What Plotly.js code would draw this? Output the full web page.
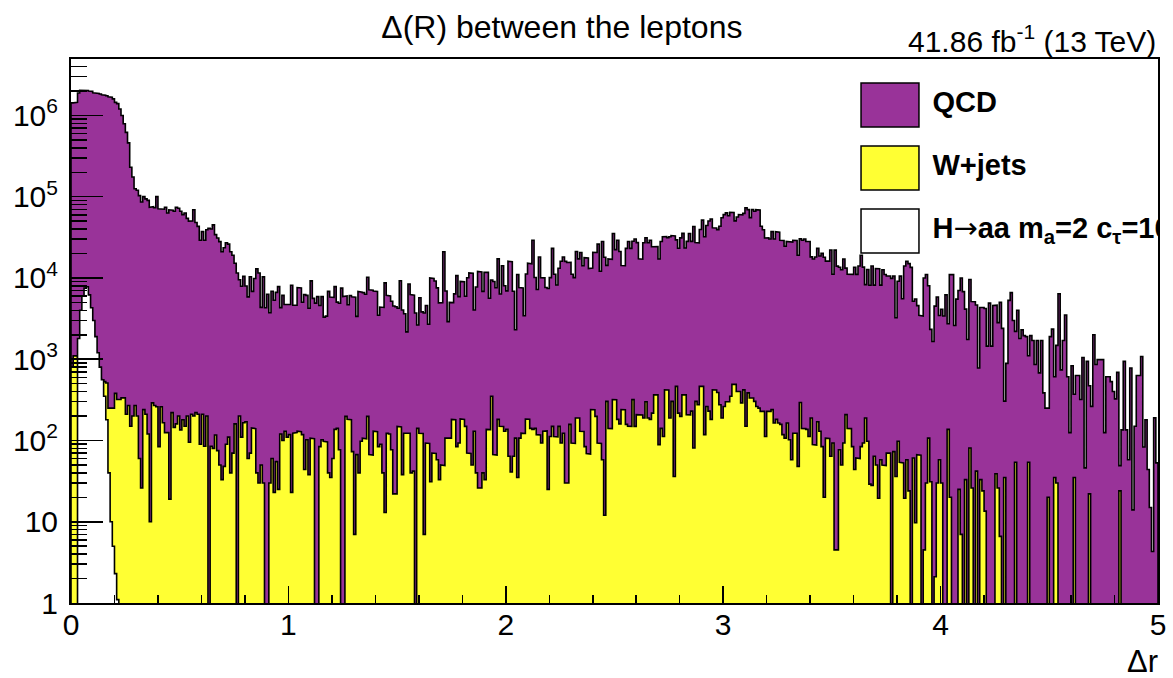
<!DOCTYPE html>
<html>
<head>
<meta charset="utf-8">
<script src="https://cdn.plot.ly/plotly-3.0.1.min.js"></script>
<style>
  html, body { margin: 0; padding: 0; background: #ffffff; }
  #chart { width: 1173px; height: 678px; }
</style>
</head>
<body>
<div id="chart"></div>
<script>
// Δr between the two leptons: 500 bins from 0 to 5
const xMin = 0;
const xMax = 5;
const nBins = 500;

// QCD yield per bin
const qcd = [
  1430000, 1430000, 1450000, 1890000, 2040000, 2040000, 2050000, 2030000, 2000000, 1980000,
  1900000, 1880000, 1860000, 1840000, 1800000, 1780000, 1750000, 1700000, 1680000, 1600000,
  1450000, 1400000, 1200000, 1000000, 790000, 620000, 460000, 230000, 175000, 125000,
  120000, 103000, 86000, 100000, 94000, 90000, 74000, 75000, 73000, 100000,
  71000, 71000, 70000, 74000, 63000, 69000, 68000, 66000, 74000, 72000,
  66000, 60000, 63000, 54000, 50000, 50000, 69000, 48000, 43000, 29000,
  37000, 29000, 39000, 41000, 40000, 45000, 34000, 31000, 28000, 21000,
  23500, 27000, 26000, 21000, 19000, 15000, 11500, 9300, 7800, 10300,
  7800, 5800, 10300, 6700, 9700, 12900, 11500, 4300, 10300, 4300,
  6300, 3700, 6800, 5300, 6600, 7800, 4200, 6000, 4600, 4600,
  4600, 8100, 4500, 4500, 7500, 7400, 4900, 6200, 6000, 4200,
  9100, 5500, 4900, 5900, 4500, 5800, 3200, 3300, 6800, 5800,
  5700, 7700, 4900, 4800, 7500, 5900, 5800, 4500, 5900, 5800,
  5800, 3300, 6800, 6600, 6500, 6200, 10000, 7100, 7000, 6800,
  6700, 3400, 4300, 4300, 8700, 6000, 5900, 5100, 4500, 4400,
  4100, 9100, 4000, 3500, 2050, 8300, 6200, 6100, 3700, 2500,
  5600, 3700, 3700, 4500, 2600, 10000, 9800, 9100, 7500, 4900,
  4900, 21000, 6800, 2800, 4900, 4800, 6200, 10600, 5800, 8900,
  8800, 5800, 10000, 11500, 11400, 3900, 7700, 12000, 11800, 6800,
  11700, 11600, 5500, 9100, 9000, 7500, 17000, 6200, 14000, 7900,
  6800, 16000, 15800, 6800, 2200, 11000, 7500, 7400, 3300, 11000,
  15000, 14800, 29000, 10000, 7100, 18000, 10000, 9900, 7500, 7400,
  10000, 23000, 11000, 8100, 13000, 16000, 18000, 16000, 15500, 15400,
  11000, 10000, 21000, 17000, 20500, 14000, 17700, 17600, 13000, 13000,
  20500, 20400, 26000, 12000, 28000, 18000, 14000, 17000, 16800, 35000,
  22000, 29000, 21000, 14000, 13900, 23000, 28000, 23000, 28000, 30000,
  27000, 17000, 16800, 27000, 31000, 27000, 29000, 24000, 23800, 24000,
  17000, 28000, 32000, 31800, 31000, 32000, 33000, 32800, 29000, 23000,
  31000, 35000, 23000, 28000, 35000, 28000, 43000, 27000, 26800, 39000,
  51000, 32000, 44000, 50000, 53000, 41000, 40800, 39000, 43000, 55000,
  60000, 63000, 58000, 64000, 63500, 50000, 56000, 60000, 59500, 62000,
  73000, 69000, 55000, 69000, 66000, 69000, 68500, 43000, 39000, 31000,
  31000, 30000, 37000, 30000, 37000, 36500, 29000, 28800, 24500, 28000,
  27800, 27600, 29000, 28800, 19000, 30000, 29000, 30000, 28000, 28000,
  18000, 17000, 18000, 23000, 18500, 20000, 18000, 16000, 16000, 22000,
  11000, 22000, 14000, 13500, 12600, 17000, 13000, 11000, 11000, 11000,
  13500, 11000, 14000, 19000, 13500, 8100, 12600, 8100, 14000, 8100,
  13000, 13000, 8100, 12600, 11000, 10500, 10500, 9900, 10500, 3200,
  9000, 10500, 5500, 14000, 16000, 15000, 13500, 5100, 5500, 4500,
  3400, 3400, 10000, 11000, 7900, 2300, 1650, 4500, 5800, 3400,
  4100, 3400, 6200, 2600, 11000, 11000, 2600, 5500, 7000, 10000,
  6800, 4100, 1750, 9500, 5100, 5100, 4600, 780, 4300, 4300,
  4200, 1450, 4900, 1450, 4600, 4600, 2800, 5000, 2400, 270,
  890, 5300, 6600, 3000, 2150, 4000, 1800, 2300, 1950, 1900,
  1050, 1950, 1700, 860, 1700, 680, 1700, 385, 250, 230,
  1900, 2350, 575, 1450, 6400, 740, 1700, 3500, 610, 125,
  830, 335, 630, 630, 320, 1050, 46, 940, 450, 263,
  2000, 860, 990, 990, 990, 125, 610, 610, 530, 400,
  325, 690, 25, 135, 940, 135, 58, 780, 14, 150,
  630, 630, 1080, 83, 180, 44, 15, 4.3, 190, 53
];

// W+jets yield per bin
const wjets = [
  800, 1100, 1100, 1000, 950, 900, 850, 800, 750, 700,
  650, 620, 600, 580, 560, 530, 510, 250, 250, 250,
  380, 320, 320, 335, 335, 210, 270, 150, 200, 270,
  200, 60, 26, 240, 210, 120, 10, 290, 270, 260,
  84, 260, 165, 125, 125, 19, 220, 145, 160, 200,
  135, 180, 150, 200, 95, 210, 200, 220, 210, 90,
  210, 85, 200, 0, 85, 80, 117, 75, 50, 33,
  48, 90, 110, 40, 70, 160, 0, 200, 110, 165,
  170, 60, 70, 143, 140, 40, 30, 50, 30, 0,
  0, 30, 60, 23, 55, 25, 120, 100, 130, 110,
  118, 23, 123, 125, 130, 128, 118, 44, 102, 38,
  107, 105, 0, 0, 84, 102, 98, 96, 40, 35,
  60, 137, 141, 77, 0, 0, 198, 182, 180, 73,
  7, 67, 40, 98, 107, 105, 198, 67, 66, 130,
  128, 84, 90, 40, 13, 123, 120, 77, 22, 22,
  149, 147, 38, 123, 123, 123, 40, 42, 0, 141,
  123, 122, 7, 93, 92, 31, 70, 69, 58, 33,
  50, 49, 107, 106, 107, 182, 180, 84, 93, 184,
  182, 149, 70, 69, 50, 130, 40, 26, 26, 40,
  33, 137, 136, 350, 67, 66, 182, 150, 149, 130,
  137, 64, 41, 64, 107, 35, 107, 123, 122, 184,
  183, 141, 137, 141, 118, 117, 93, 130, 131, 25,
  112, 149, 112, 111, 149, 93, 123, 30, 30, 158,
  93, 92, 189, 189, 130, 129, 84, 69, 68, 240,
  239, 198, 93, 92, 58, 12, 303, 141, 140, 318,
  317, 182, 160, 240, 239, 158, 150, 149, 318, 149,
  208, 207, 206, 189, 300, 189, 182, 217, 365, 364,
  89, 141, 112, 420, 419, 189, 303, 36, 464, 217,
  198, 365, 364, 208, 207, 230, 81, 303, 275, 464,
  463, 118, 262, 230, 182, 420, 419, 390, 275, 189,
  262, 300, 300, 350, 490, 490, 400, 400, 290, 420,
  150, 385, 333, 333, 303, 262, 250, 228, 228, 112,
  228, 228, 240, 164, 182, 164, 158, 118, 107, 164,
  102, 58, 123, 123, 48, 294, 141, 140, 137, 112,
  189, 89, 88, 170, 130, 84, 20, 107, 106, 64,
  93, 4.5, 4.5, 77, 50, 93, 208, 141, 140, 84,
  44, 61, 60, 84, 93, 189, 98, 29, 28, 64,
  50, 19.5, 58, 50, 49, 70, 70, 0, 73, 36,
  98, 54, 53, 19.5, 58, 24, 0, 61, 9.7, 67,
  66, 0, 4.5, 30, 107, 31, 0, 2.1, 30, 58,
  30, 0, 0, 137, 20, 0, 0, 0, 25, 7,
  0, 33, 0, 81, 26, 0, 42, 0, 33, 24,
  13.5, 0, 0, 0, 0, 39, 26, 6.6, 0, 35,
  0, 0, 0, 0, 54, 0, 0, 0, 0, 0,
  54, 0, 0, 0, 0, 0, 0, 0, 0, 20,
  0, 0, 35, 30, 0, 0, 0, 0, 0, 0,
  0, 35, 0, 0, 0, 0, 0, 0, 22, 0,
  0, 0, 0, 0, 0, 0, 0, 0, 0, 0,
  0, 0, 24, 0, 0, 0, 0, 0, 0, 0,
  0, 0, 0, 0, 0, 0, 0, 0, 0, 0
];

// H→aa signal (m_a = 2, cτ = 10): only the first bins are populated
const haa = [0, 0, 0, 1800, 4000, 6000, 7500, 7800, 6200, 4300, 3000, 1900, 1200, 800, 560, 350, 180, 40, 10, 5, 2.3, 1.1];

const legendLabels = [
  'QCD',
  'W+jets',
  'H<span style="font-family:DejaVu Sans;font-weight:normal">\u2192</span>aa m<sub>a</sub>=2 c<sub>\u03c4</sub>=10'
];
const legendColors = ['#993399', '#ffff33', '#ffffff'];

const yTickVals = [1, 10, 100, 1000, 10000, 100000, 1000000];
const yTickText = ['1', '10', '10<sup>2</sup>', '10<sup>3</sup>', '10<sup>4</sup>', '10<sup>5</sup>', '10<sup>6</sup>'];

const FONT = 'Liberation Sans, Arial, Helvetica, sans-serif';
const binW = (xMax - xMin) / nBins;
const floorY = 0.05; // empty bins drop below the visible log range

// Closed step outline of a histogram, suitable for a filled scatter trace
function stepOutline(vals) {
  const xs = [xMin], ys = [floorY];
  vals.forEach((v, i) => {
    const y = v > 0 ? v : floorY;
    const x0 = xMin + i * binW, x1 = xMin + (i + 1) * binW;
    xs.push(x0, x1);
    ys.push(y, y);
  });
  xs.push(xMin + vals.length * binW);
  ys.push(floorY);
  return { x: xs, y: ys };
}

function histTrace(vals, fill) {
  const s = stepOutline(vals);
  return {
    type: 'scatter', mode: 'lines', x: s.x, y: s.y,
    fill: 'toself', fillcolor: fill,
    line: { color: '#000000', width: 1.6, shape: 'linear' },
    hoverinfo: 'skip', showlegend: false
  };
}

// Stack: W+jets at the bottom, QCD on top
const stackTop = qcd.map((v, i) => v + wjets[i]);

// Minor ticks of the log axis at 2..9 in each decade
const yMinor = [];
for (let e = 0; e <= 6; e++) {
  for (let m = 2; m <= 9; m++) yMinor.push(m * Math.pow(10, e));
}

// Legend placement (paper units of the plot frame)
const legX0 = 0.7268, legX1 = 0.7801, legTextX = 0.7925;
const legYc = [0.9154, 0.7996, 0.6838];
const legHalfH = 0.0405;

const traces = [
  histTrace(stackTop, '#993399'),
  histTrace(wjets, '#ffff33'),
  histTrace(haa, '#ffffff'),
  {
    type: 'scatter', mode: 'text', xaxis: 'x2', yaxis: 'y2',
    x: legendLabels.map(() => legTextX), y: legYc,
    text: legendLabels.map(t => '<b>' + t + '</b>'),
    textposition: 'middle right', cliponaxis: true,
    textfont: { family: FONT, size: 29, color: '#000000' },
    hoverinfo: 'skip', showlegend: false
  }
];

const shapes = legendColors.map((c, i) => ({
  type: 'rect', xref: 'paper', yref: 'paper', layer: 'above',
  x0: legX0, x1: legX1, y0: legYc[i] - legHalfH, y1: legYc[i] + legHalfH,
  fillcolor: c, line: { color: '#000000', width: 1.5 }
}));

const layout = {
  width: 1173, height: 678,
  margin: { l: 71, r: 15, t: 59, b: 75, pad: 0 },
  paper_bgcolor: '#ffffff', plot_bgcolor: '#ffffff',
  font: { family: FONT, color: '#000000' },
  showlegend: false,
  title: {
    text: '\u0394(R) between the leptons',
    font: { family: FONT, size: 32, color: '#000000' },
    xref: 'container', x: 0.479, xanchor: 'center',
    yref: 'container', y: 0.961, yanchor: 'middle'
  },
  xaxis: {
    range: [xMin, xMax], type: 'linear',
    showgrid: false, zeroline: false,
    showline: true, mirror: true, linecolor: '#000000', linewidth: 2,
    ticks: 'inside', ticklen: 17, tickwidth: 1.5, tickcolor: '#000000',
    tick0: 0, dtick: 1,
    tickfont: { family: FONT, size: 30, color: '#000000' },
    ticklabelstandoff: -6,
    minor: { ticks: 'inside', ticklen: 8, tickwidth: 1.5, tickcolor: '#000000', tick0: 0, dtick: 0.2, showgrid: false }
  },
  yaxis: {
    type: 'log', range: [0, 6.695],
    showgrid: false, zeroline: false,
    showline: true, mirror: true, linecolor: '#000000', linewidth: 2,
    ticks: 'inside', ticklen: 32, tickwidth: 1.5, tickcolor: '#000000',
    tickmode: 'array', tickvals: yTickVals, ticktext: yTickText,
    tickfont: { family: FONT, size: 30, color: '#000000' },
    ticklabelstandoff: 5,
    minor: { ticks: 'inside', ticklen: 16, tickwidth: 1.5, tickcolor: '#000000', tickmode: 'array', tickvals: yMinor, showgrid: false }
  },
  xaxis2: { overlaying: 'x', anchor: 'y2', range: [0, 1], visible: false, fixedrange: true },
  yaxis2: { overlaying: 'y', anchor: 'x2', range: [0, 1], visible: false, fixedrange: true },
  shapes: shapes,
  annotations: [
    {
      text: '41.86 fb<sup>-1</sup> (13 TeV)', showarrow: false,
      xref: 'paper', x: 1.0, xanchor: 'right',
      yref: 'paper', y: 1.037, yanchor: 'middle',
      font: { family: FONT, size: 30, color: '#000000' }
    },
    {
      text: '\u0394r', showarrow: false,
      xref: 'paper', x: 1.002, xanchor: 'right',
      yref: 'paper', y: -0.108, yanchor: 'middle',
      font: { family: FONT, size: 31, color: '#000000' }
    }
  ]
};

Plotly.newPlot('chart', traces, layout, { staticPlot: true, displayModeBar: false });
</script>
</body>
</html>
